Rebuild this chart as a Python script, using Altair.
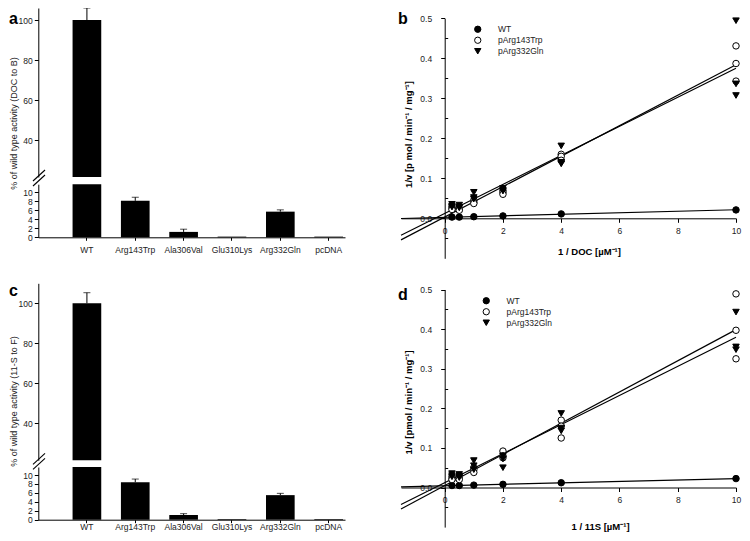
import altair as alt
import pandas as pd

# ---------------- data ----------------
categories = ["WT", "Arg143Trp", "Ala306Val", "Glu310Lys", "Arg332Gln", "pcDNA"]
a_values = [100, 8.1, 1.2, 0.15, 5.7, 0.15]
a_errors = [6.0, 0.8, 0.6, 0.0, 0.4, 0.0]
c_values = [100, 8.4, 1.05, 0.15, 5.5, 0.15]
c_errors = [5.3, 0.7, 0.3, 0.0, 0.4, 0.0]

series = ["WT", "pArg143Trp", "pArg332Gln"]
inv_conc = [0.25, 0.5, 1, 2, 4, 10]

b_wt = [0.003, 0.003, 0.004, 0.006, 0.011, 0.021]
b_trp = [[0.030, 0.025, 0.022], [0.025, 0.022, 0.020], [0.045, 0.040, 0.037],
         [0.070, 0.065, 0.060], [0.160, 0.155, 0.145], [0.431, 0.387, 0.343]]
b_gln = [[0.035, 0.030, 0.028], [0.033, 0.028, 0.026], [0.065, 0.052, 0.048],
         [0.075, 0.070, 0.068], [0.181, 0.140, 0.136], [0.494, 0.336, 0.307]]

d_wt = [0.005, 0.005, 0.006, 0.008, 0.012, 0.0225]
d_trp = [[0.028, 0.022, 0.020], [0.030, 0.025, 0.020], [0.050, 0.045, 0.038],
         [0.092, 0.080, 0.075], [0.170, 0.155, 0.125], [0.489, 0.397, 0.325]]
d_gln = [[0.035, 0.030, 0.027], [0.033, 0.028, 0.025], [0.068, 0.055, 0.045],
         [0.080, 0.072, 0.050], [0.187, 0.150, 0.143], [0.443, 0.355, 0.348]]

panel_letters = ["a", "b", "c", "d"]
a_ytitle = "% of wild type activity (DOC to B)"
c_ytitle = "% of wild type activity (11-S to F)"
b_xtitle = "1 / DOC [\u00b5M\u207b\u00b9]"
b_ytitle = "1/v [p mol / min\u207b\u00b9 / mg\u207b\u00b9]"
d_xtitle = "1 / 11S [\u00b5M\u207b\u00b9]"
d_ytitle = "1/v [pmol / min\u207b\u00b9 / mg\u207b\u00b9]"
major_y_ticks = [0, 0.1, 0.2, 0.3, 0.4, 0.5]
minor_y_ticks = [-0.05, 0.05, 0.15, 0.25, 0.35, 0.45]
x_ticks = [0, 2, 4, 6, 8, 10]
series_shapes = ["circle", "circle", "triangle-down"]
series_fills = ["black", "white", "black"]
series_strokes = ["black", "black", "black"]

# ---------------- layout ----------------
W, H = 734, 525
FONT = "Liberation Sans, Arial, sans-serif"
TXT = "#222222"

BX0, BX1 = 30.3, 337.0
LOW_DOMAIN = [0, 11.8]
A_UP_DOMAIN, A_UP_RANGE = [21.5, 106], [169.0, 0.0]
A_LOW_RANGE = [229.3, 176.2]
C_UP_DOMAIN, C_UP_RANGE = [21.5, 110], [452.3, 275.3]
C_LOW_RANGE = [511.7, 459.0]

RX_DOMAIN, RX_RANGE = [-1.5, 10], [393.0, 728.0]
X_ZERO = RX_RANGE[0] + (0 - RX_DOMAIN[0]) * (RX_RANGE[1] - RX_RANGE[0]) / (RX_DOMAIN[1] - RX_DOMAIN[0])
RY_DOMAIN = [-0.1, 0.5]
B_Y_RANGE = [250.3, 10.3]
D_Y_RANGE = [519.1, 281.5]


def y_zero(rng):
    return rng[0] + (0 - RY_DOMAIN[0]) * (rng[1] - rng[0]) / (RY_DOMAIN[1] - RY_DOMAIN[0])


def bar_panel(values, errors, up_domain, up_range, low_range, ytitle, title_y, xlabel_pad):
    df = pd.DataFrame({"cat": categories, "value": values, "err": errors})
    df["top"] = df["value"] + df["err"]
    xscale = alt.Scale(domain=categories, range=[BX0, BX1], paddingInner=0.407,
                       paddingOuter=0.375, align=0.945)
    up_scale = alt.Scale(domain=up_domain, range=up_range, clamp=True, nice=False, zero=False)
    low_scale = alt.Scale(domain=LOW_DOMAIN, range=low_range, clamp=True, nice=False, zero=False)

    up_axis = alt.Axis(orient="left", offset=-BX0, values=[40, 60, 80, 100], tickSize=4,
                       labelPadding=2, labelFontSize=8.5, labelOverlap=False, labelFlush=False,
                       title=ytitle, titleX=5 - BX0, titleY=title_y, titleAngle=270,
                       titleBaseline="middle", titleAlign="center",
                       titleFontSize=9, titleFontWeight="normal")
    low_axis = alt.Axis(orient="left", offset=-BX0, values=[0, 2, 4, 6, 8, 10], tickSize=4,
                        labelPadding=2, labelFontSize=8.5, labelOverlap=False,
                        labelFlush=False, title=None)
    x_axis = alt.Axis(orient="bottom", offset=low_range[0] - H, tickSize=3,
                      labelPadding=xlabel_pad, labelFontSize=8.5, labelAngle=0,
                      labelOverlap=False, title=None)

    base = alt.Chart(df)
    xu = alt.X("cat:N", scale=xscale, sort=categories, axis=None)
    up_base = base.transform_filter(alt.datum.value > up_domain[0])
    up = alt.layer(
        up_base.mark_bar(color="black").encode(
            x=xu, y=alt.Y("value:Q", scale=up_scale, axis=up_axis), y2=alt.Y2(datum=0)),
        up_base.mark_rule(color="black", strokeWidth=1).encode(
            x=xu, y=alt.Y("value:Q", scale=up_scale, axis=up_axis), y2="top:Q"),
        up_base.mark_tick(color="black", thickness=1, size=7, orient="horizontal").encode(
            x=xu, y=alt.Y("top:Q", scale=up_scale, axis=up_axis)),
    )
    xl = alt.X("cat:N", scale=xscale, sort=categories, axis=x_axis)
    err_ok = (alt.datum.err > 0) & (alt.datum.top <= LOW_DOMAIN[1])
    low = alt.layer(
        base.mark_bar(color="black").encode(
            x=xl, y=alt.Y("value:Q", scale=low_scale, axis=low_axis), y2=alt.Y2(datum=0)),
        base.transform_filter(err_ok).mark_rule(color="black", strokeWidth=1).encode(
            x=xl, y=alt.Y("value:Q", scale=low_scale, axis=low_axis), y2="top:Q"),
        base.transform_filter(err_ok).mark_tick(
            color="black", thickness=1, size=7, orient="horizontal").encode(
            x=xl, y=alt.Y("top:Q", scale=low_scale, axis=low_axis)),
    )
    return up, low


def kinetics_df(wt, trp, gln):
    rows = []
    for i, xv in enumerate(inv_conc):
        rows.append({"x": xv, "y": wt[i], "series": series[0]})
        for v in trp[i]:
            rows.append({"x": xv, "y": v, "series": series[1]})
        for v in gln[i]:
            rows.append({"x": xv, "y": v, "series": series[2]})
    return pd.DataFrame(rows)


def kinetics_panel(df, y_range, xtitle, ytitle, xtitle_x, xtitle_y, ytitle_y, xlabel_pad,
                   leg_x, leg_y):
    xs = alt.Scale(domain=RX_DOMAIN, range=RX_RANGE, nice=False, zero=False)
    ys = alt.Scale(domain=RY_DOMAIN, range=y_range, nice=False, zero=False)
    x_axis = alt.Axis(orient="bottom", offset=y_zero(y_range) - H, values=x_ticks,
                      format="d", tickSize=4, labelPadding=xlabel_pad, labelFontSize=8.5,
                      labelFlush=False, labelOverlap=False, title=xtitle, titleX=xtitle_x,
                      titleY=xtitle_y, titleBaseline="middle", titleAlign="center",
                      titleFontSize=9.5, titleFontWeight="bold", titleColor="black")
    y_axis = alt.Axis(orient="left", offset=-X_ZERO, values=major_y_ticks,
                      format=".1f", tickSize=4, labelPadding=9, labelFontSize=8.5,
                      labelFlush=False, labelOverlap=False, title=ytitle,
                      titleX=400 - X_ZERO, titleY=ytitle_y, titleAngle=270,
                      titleBaseline="middle", titleAlign="center",
                      titleFontSize=9.5, titleFontWeight="bold", titleColor="black")
    leg = alt.Legend(title=None, orient="none", legendX=leg_x, legendY=leg_y,
                     labelFontSize=8.5, symbolSize=40, rowPadding=0, labelOffset=16,
                     symbolStrokeWidth=1, labelColor=TXT, labelFont=FONT)
    base = alt.Chart(df)
    lines = base.transform_regression("x", "y", groupby=["series"], extent=RX_DOMAIN).mark_line(
        color="black", strokeWidth=1.2).encode(
        x=alt.X("x:Q", scale=xs, axis=x_axis),
        y=alt.Y("y:Q", scale=ys, axis=y_axis),
        detail="series:N")
    pts = base.mark_point(filled=True, size=42, strokeWidth=1, opacity=1).encode(
        x=alt.X("x:Q", scale=xs, axis=x_axis),
        y=alt.Y("y:Q", scale=ys, axis=y_axis),
        stroke=alt.Stroke("series:N", scale=alt.Scale(domain=series, range=series_strokes),
                          legend=leg),
        shape=alt.Shape("series:N", scale=alt.Scale(domain=series, range=series_shapes),
                        legend=leg),
        fill=alt.Fill("series:N", scale=alt.Scale(domain=series, range=series_fills),
                      legend=leg))
    # minor ticks on the inner (right) side of the y axis
    minor_axis = alt.Axis(orient="right", offset=X_ZERO - W, values=minor_y_ticks,
                          tickSize=3, labels=False, domain=False, title=None)
    minor = base.mark_point(opacity=0, size=1).encode(
        y=alt.Y("y:Q", scale=alt.Scale(domain=RY_DOMAIN, range=y_range, nice=False, zero=False),
                axis=minor_axis))
    return alt.layer(lines, pts), minor


a_up, a_low = bar_panel(a_values, a_errors, A_UP_DOMAIN, A_UP_RANGE, A_LOW_RANGE,
                        a_ytitle, 115, 5)
c_up, c_low = bar_panel(c_values, c_errors, C_UP_DOMAIN, C_UP_RANGE, C_LOW_RANGE,
                        c_ytitle, 393, 0)

b_panel, b_minor = kinetics_panel(kinetics_df(b_wt, b_trp, b_gln), B_Y_RANGE, b_xtitle, b_ytitle,
                                  581, 33.4, 126, 4, 465.5, 17)
d_panel, d_minor = kinetics_panel(kinetics_df(d_wt, d_trp, d_gln), D_Y_RANGE, d_xtitle, d_ytitle,
                                  592, 38.5, 394, 4, 474, 288.5)

letter_pos = [(1, 15.5), (390, 15.5), (1, 288), (390, 292)]
letters = [
    alt.Chart(pd.DataFrame({"t": [t]})).mark_text(
        fontSize=16, fontWeight="bold", font=FONT, align="left", baseline="alphabetic",
        color="black").encode(text="t:N", x=alt.value(px), y=alt.value(py))
    for t, (px, py) in zip(panel_letters, letter_pos)
]

break_strokes = [(25, 37, 173, 162), (25, 37, 178, 167),
                 (25, 37, 456.3, 445.3), (25, 37, 461.3, 450.3)]
breaks = [
    alt.Chart(pd.DataFrame({"k": [0]})).mark_rule(color="black", strokeWidth=1.1).encode(
        x=alt.value(x1), x2=alt.value(x2), y=alt.value(y1), y2=alt.value(y2))
    for (x1, x2, y1, y2) in break_strokes
]

chart = alt.layer(a_up, a_low, c_up, c_low, b_minor, d_minor, b_panel, d_panel,
                  *letters, *breaks).resolve_scale(
    x="independent", y="independent", shape="independent", fill="independent",
    stroke="independent"
).resolve_axis(x="independent", y="independent").resolve_legend(
    shape="independent", fill="independent", stroke="independent"
).properties(
    width=W, height=H, padding=0, autosize=alt.AutoSizeParams(type="none")
).configure_view(stroke=None).configure_axis(
    grid=False, domainColor="black", tickColor="black", labelColor=TXT, titleColor=TXT,
    labelFont=FONT, titleFont=FONT, domainWidth=1, tickWidth=1
).configure_legend(labelFont=FONT)

chart.save("out.html", embed_options={"renderer": "svg", "actions": False})
